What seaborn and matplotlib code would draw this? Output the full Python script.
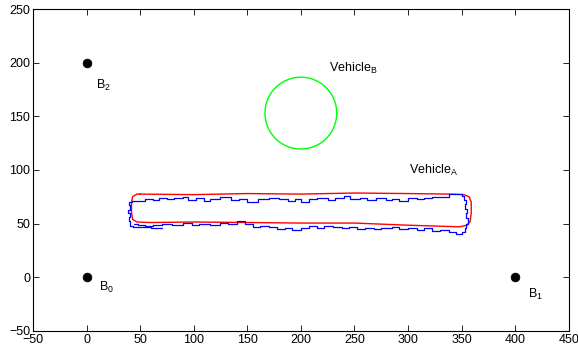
import numpy as np
import pandas as pd
import matplotlib
matplotlib.use("Agg")
import matplotlib.pyplot as plt
import seaborn as sns

# ---- data ----
beacon_names = ["B_0", "B_1", "B_2"]
beacon_x = [0, 400, 0]
beacon_y = [0, 0, 200]

circle_center = (200, 153)
circle_radius = 33.5

# Vehicle A reference path (red, smooth loop)
red_x = [50, 100, 150, 200, 250, 300, 340, 352, 357, 359, 359, 358, 355, 348,
         300, 250, 200, 150, 100, 60, 47, 43, 42, 42, 43, 47, 50]
red_y = [77.5, 77, 78, 77.5, 78.5, 78, 77.5, 77, 75, 70, 60, 52, 48.5, 47,
         48.5, 50.5, 50.5, 51, 51.5, 51, 51.5, 54, 60, 70, 75, 77.5, 77.5]

# Vehicle A estimated path (blue, staircase)
blue_x = [70, 60, 50, 43, 41, 40, 41, 39, 41, 40,
          42, 55, 62, 68, 75, 82, 90, 95, 102, 110,
          115, 125, 135, 142, 150, 160, 170, 180, 188, 195,
          200, 208, 215, 225, 232, 240, 246, 255, 262, 270,
          279, 285, 292, 300, 308, 315, 322, 330, 338, 345,
          350, 352, 354, 353, 355, 354, 356, 354, 353,
          350, 345, 338, 330, 322, 315, 308, 300, 292, 285,
          275, 268, 260, 252, 245, 238, 230, 222, 215, 208,
          200, 192, 185, 178, 170, 162, 155, 148, 140, 132,
          125, 115, 105, 98, 90, 80, 70, 62, 55, 48, 44]
blue_y = [46, 46.5, 47, 48, 52, 56, 60, 63, 67, 70,
          71.5, 73, 72, 74, 72.5, 73.5, 75, 72, 73.5, 71.5,
          73, 74.5, 72, 73, 70.5, 72.5, 74, 73, 71, 72.5,
          70, 72.5, 73.5, 72, 74, 76, 73, 74, 72, 73.5,
          72, 73, 71.5, 74, 72.5, 73.5, 75, 74.5, 77.5, 78,
          76, 72, 68, 64, 60, 55, 50, 46, 42,
          40, 42, 44, 43, 45.5, 44, 46, 45, 47, 46,
          44.5, 46, 45, 47, 45.5, 46.5, 48, 46, 47.5, 45.5,
          44, 45.5, 44.5, 46.5, 48, 47, 49.5, 52, 50, 51,
          48.5, 50, 49, 50.5, 49, 50, 48.5, 47.5, 48.5, 50, 50]

x_ticks = [-50, 0, 50, 100, 150, 200, 250, 300, 350, 400, 450]
y_ticks = [-50, 0, 50, 100, 150, 200, 250]

# ---- style ----
sns.set_style("ticks")
plt.rcParams["font.family"] = ["Liberation Sans", "DejaVu Sans"]
plt.rcParams["mathtext.default"] = "regular"
plt.rcParams["xtick.direction"] = "in"
plt.rcParams["ytick.direction"] = "in"
for key in ["text.color", "axes.labelcolor", "xtick.color", "ytick.color",
            "axes.edgecolor", "xtick.labelcolor", "ytick.labelcolor"]:
    plt.rcParams[key] = "black"

fig = plt.figure(figsize=(5.78, 3.49), dpi=100)
ax = fig.add_axes([0.057, 0.052, 0.927, 0.922])

# circle (Vehicle B)
t = np.linspace(0, 2 * np.pi, 200)
circ = pd.DataFrame({"x": circle_center[0] + circle_radius * np.cos(t),
                     "y": circle_center[1] + circle_radius * np.sin(t)})
sns.lineplot(data=circ, x="x", y="y", sort=False, estimator=None,
             color=(0, 1, 0), lw=1.0, ax=ax)

red = pd.DataFrame({"x": red_x, "y": red_y})
sns.lineplot(data=red, x="x", y="y", sort=False, estimator=None,
             color=(1, 0, 0), lw=1.0, ax=ax)

blue = pd.DataFrame({"x": blue_x, "y": blue_y})
sns.lineplot(data=blue, x="x", y="y", sort=False, estimator=None,
             color=(0, 0, 1), lw=0.9, drawstyle="steps-post", ax=ax)

beacons = pd.DataFrame({"x": beacon_x, "y": beacon_y})
sns.scatterplot(data=beacons, x="x", y="y", color="black", s=40,
                edgecolor="black", linewidth=0.5, ax=ax, zorder=5)

fs = 9
ax.text(12, -10, "B$_0$", fontsize=fs, va="center", ha="left", color="black")
ax.text(412, -16, "B$_1$", fontsize=fs, va="center", ha="left", color="black")
ax.text(9, 179, "B$_2$", fontsize=fs, va="center", ha="left", color="black")
ax.text(226, 195, "Vehicle$_B$", fontsize=fs, va="center", ha="left", color="black")
ax.text(301, 100, "Vehicle$_A$", fontsize=fs, va="center", ha="left", color="black")

ax.set_xlim(-50, 450)
ax.set_ylim(-50, 250)
ax.set_xticks(x_ticks)
ax.set_yticks(y_ticks)
ax.tick_params(labelsize=fs, top=True, right=True, length=4, width=0.6, pad=2,
               colors="black")
for s in ax.spines.values():
    s.set_linewidth(0.8)
    s.set_visible(True)
    s.set_color("black")
ax.set_xlabel("")
ax.set_ylabel("")

fig.savefig("out.png", dpi=100)
